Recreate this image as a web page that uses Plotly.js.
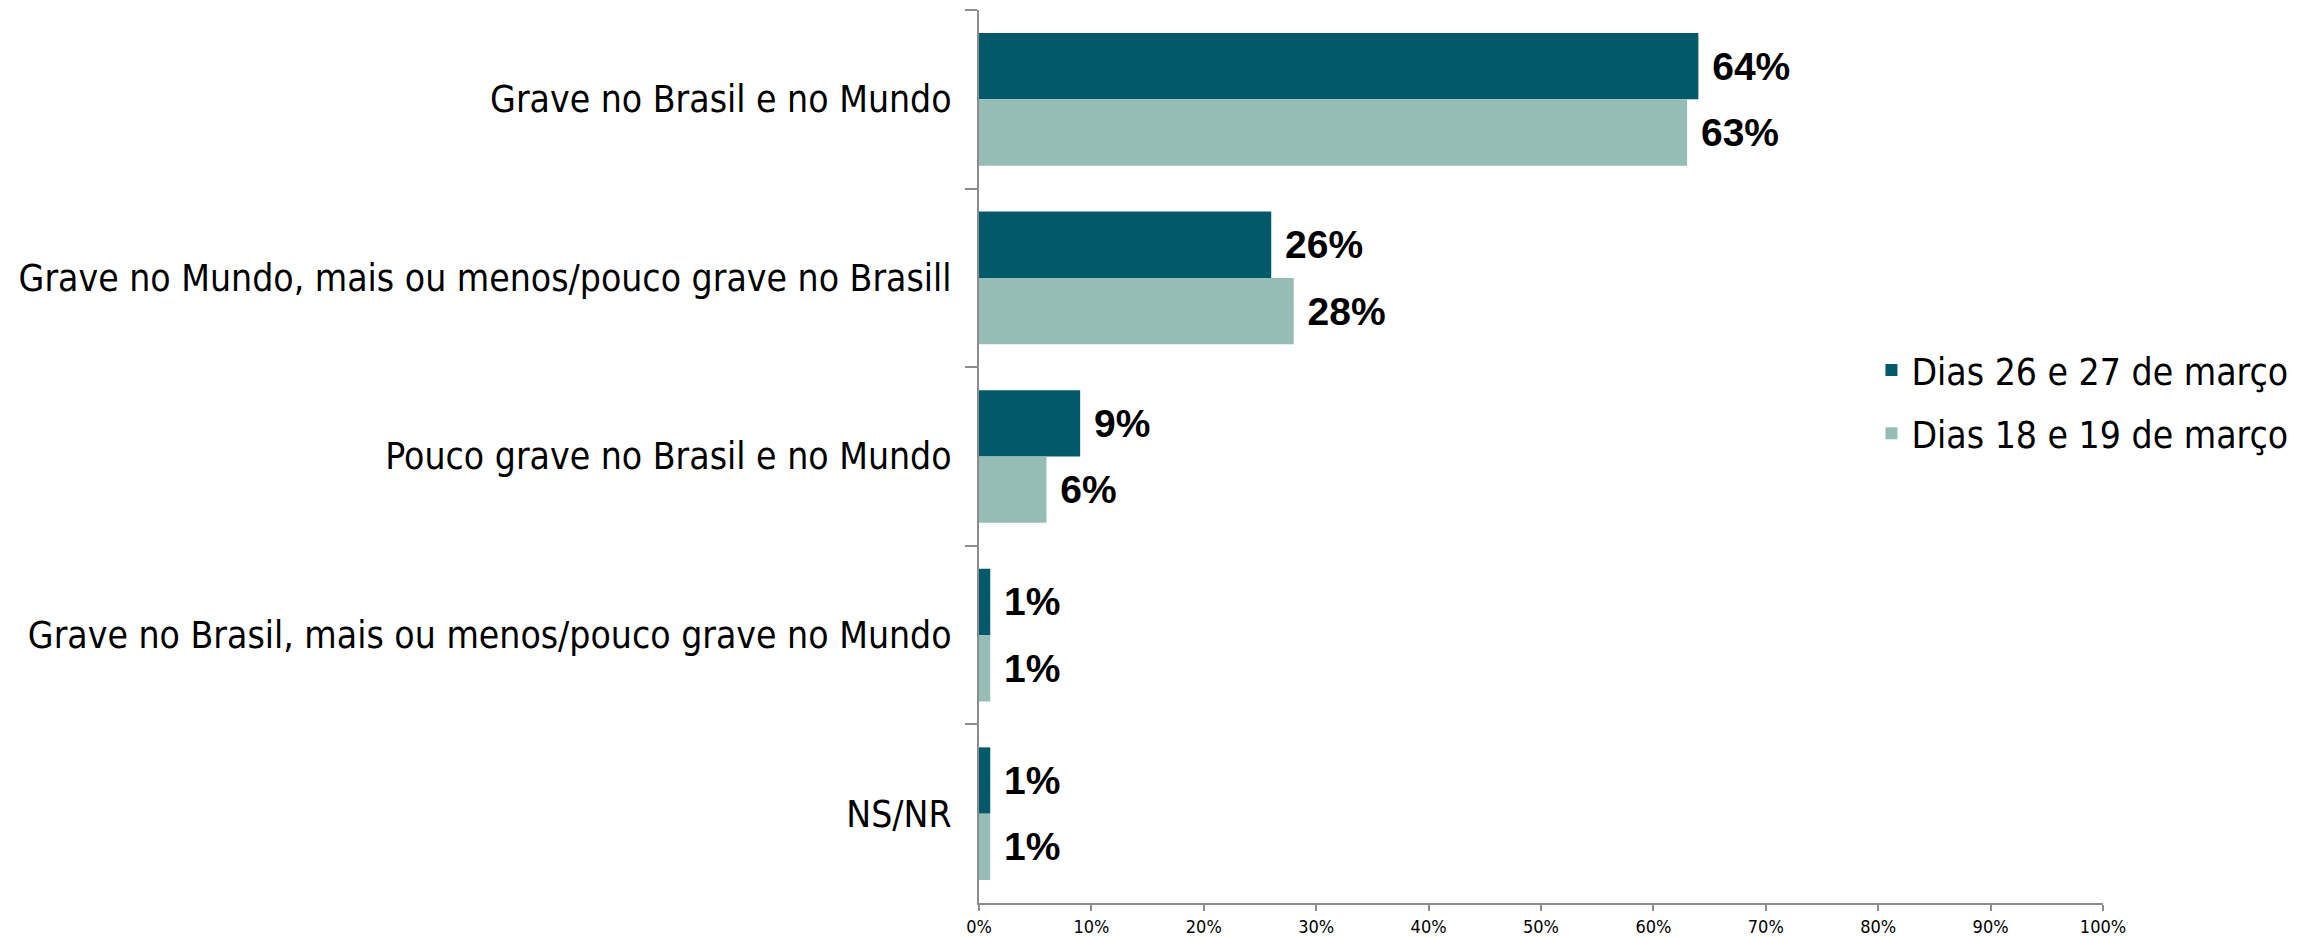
<!DOCTYPE html>
<html>
<head>
<meta charset="utf-8">
<script src="https://cdn.plot.ly/plotly-3.0.1.min.js"></script>
<style>html,body{margin:0;padding:0;background:#fff;}#chart{width:2313px;height:937px;}</style>
</head>
<body>
<div id="chart"></div>
<script>
const categories = [
  "Grave no Brasil e no Mundo",
  "Grave no Mundo, mais ou menos/pouco grave no Brasill",
  "Pouco grave no Brasil e no Mundo",
  "Grave no Brasil, mais ou menos/pouco grave no Mundo",
  "NS/NR"
];
const seriesNames = ["Dias 26 e 27 de março", "Dias 18 e 19 de março"];
const values2627 = [64, 26, 9, 1, 1];
const values1819 = [63, 28, 6, 1, 1];
const colors = ["#02596a", "#95bdb5"];

const labelFont = "DejaVu Sans Condensed, Liberation Sans Narrow, DejaVu Sans, sans-serif";

function makeTrace(name, vals, color, group) {
  return {
    type: "bar",
    orientation: "h",
    name: name,
    legendgroup: group,
    y: categories,
    x: vals,
    marker: {color: color},
    text: vals.map(v => "\u00a0" + v + "%"),
    textposition: "outside",
    constraintext: "none",
    cliponaxis: false,
    textfont: {family: "Liberation Sans, Arial, sans-serif", size: 39, color: "#000", weight: 700},
    hoverinfo: "none"
  };
}

const data = [
  makeTrace(seriesNames[0], values2627, colors[0], "a"),
  makeTrace(seriesNames[1], values1819, colors[1], "b")
];

const layout = {
  width: 2313,
  height: 937,
  margin: {l: 979, r: 210, t: 10, b: 34, pad: 0},
  paper_bgcolor: "#fff",
  plot_bgcolor: "#fff",
  barmode: "group",
  bargap: 0.257,
  bargroupgap: 0,
  showlegend: true,
  legend: {
    x: 0.794, xanchor: "left", y: 0.561, yanchor: "middle",
    font: {family: labelFont, size: 37, color: "#000"},
    traceorder: "grouped",
    tracegroupgap: 12,
    bgcolor: "rgba(0,0,0,0)"
  },
  xaxis: {
    range: [0, 100],
    dtick: 10,
    tick0: 0,
    ticksuffix: "%",
    showgrid: false,
    zeroline: false,
    showline: true,
    linecolor: "#8c8c8c",
    linewidth: 2,
    ticks: "outside",
    ticklen: 6,
    tickwidth: 2,
    tickcolor: "#8c8c8c",
    tickfont: {family: labelFont, size: 18, color: "#000"},
    fixedrange: true
  },
  yaxis: {
    type: "category",
    autorange: "reversed",
    showgrid: false,
    zeroline: false,
    showline: true,
    linecolor: "#8c8c8c",
    linewidth: 2,
    ticks: "outside",
    tickson: "boundaries",
    ticklen: 12,
    tickwidth: 2,
    tickcolor: "#8c8c8c",
    ticklabelstandoff: 18,
    tickfont: {family: labelFont, size: 37, color: "#000"},
    fixedrange: true
  }
};

Plotly.newPlot("chart", data, layout, {displayModeBar: false, staticPlot: true});
</script>
</body>
</html>
